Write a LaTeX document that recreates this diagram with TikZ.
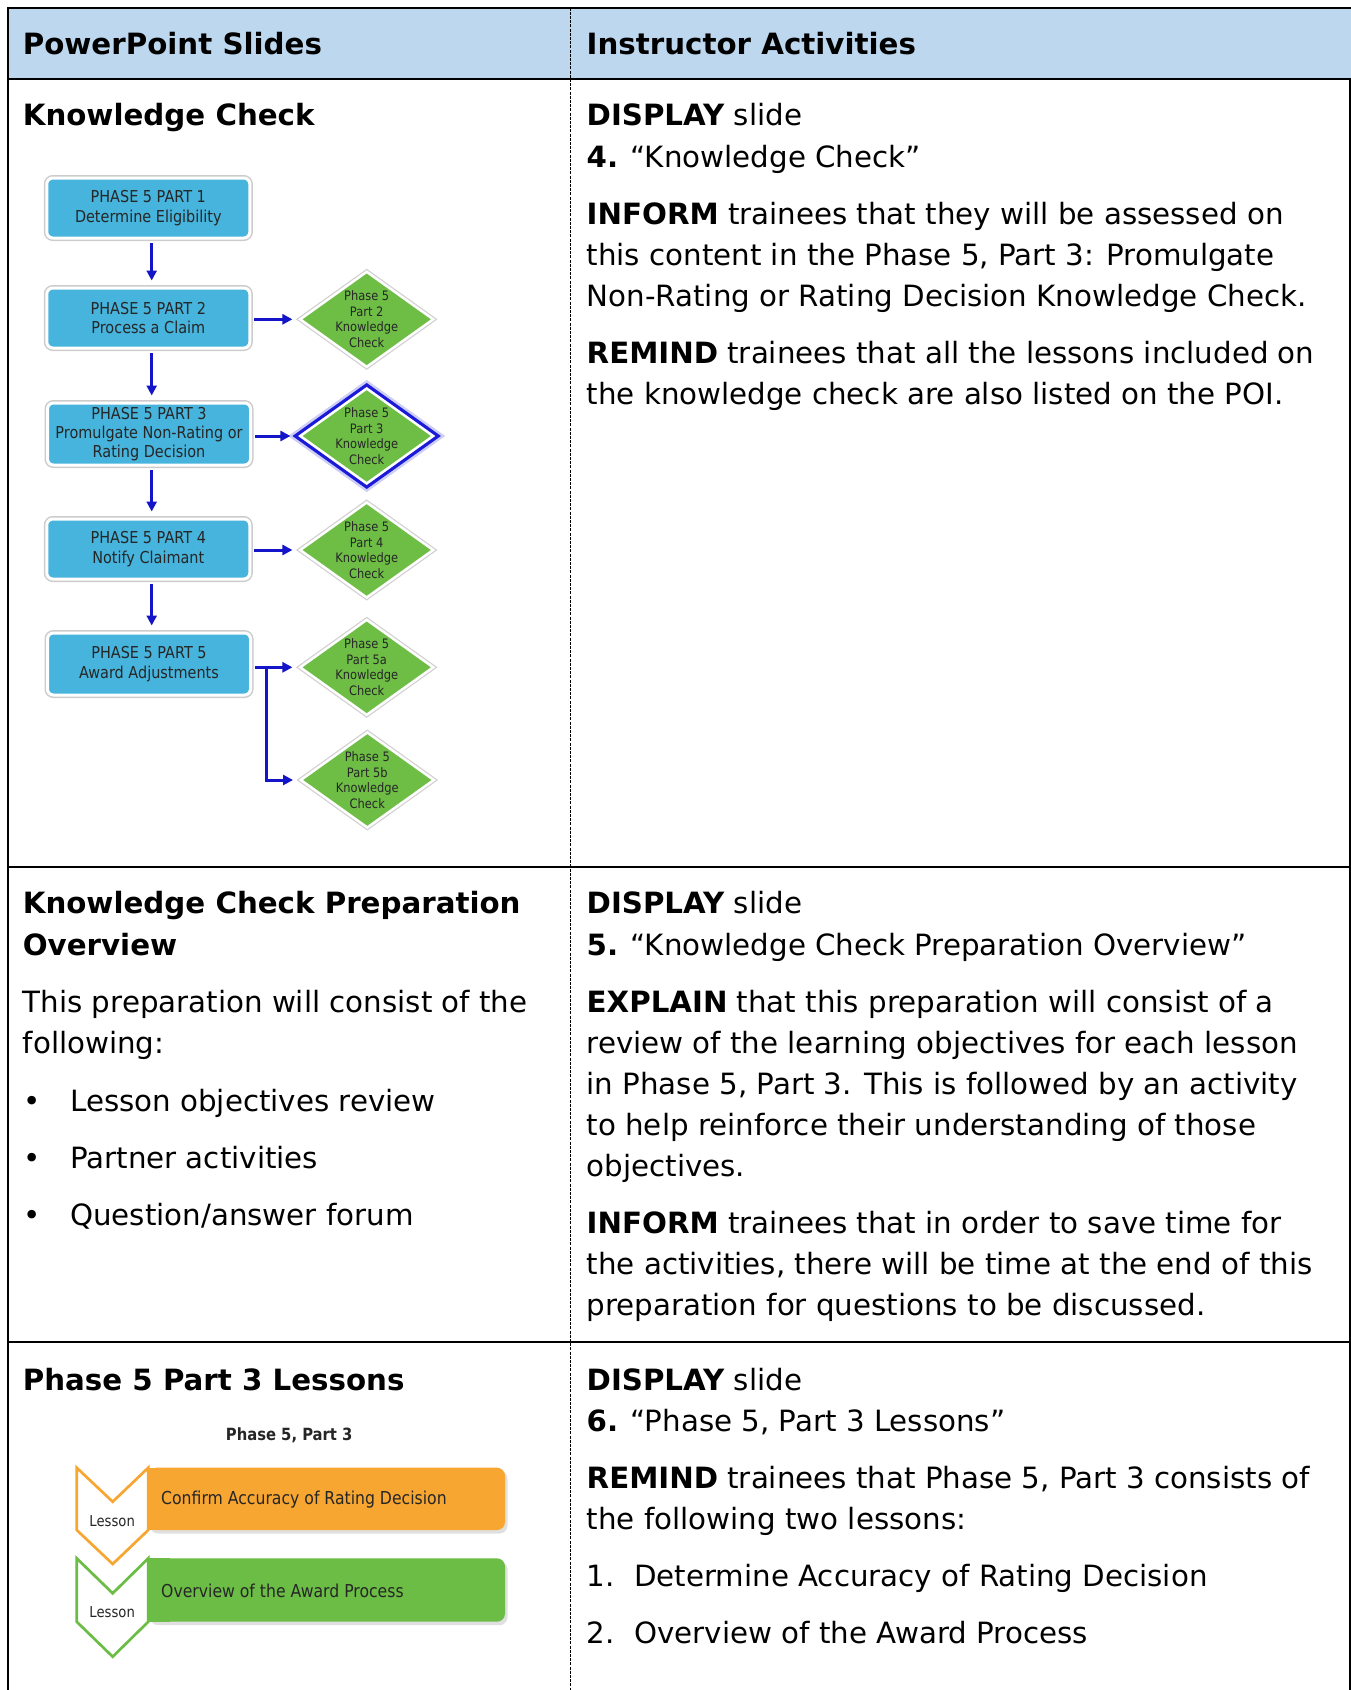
\documentclass[tikz,border=0pt]{standalone}
\usepackage{fontspec}
\setmainfont{DejaVu Sans}
\newfontfamily\tah[FakeStretch=0.88]{DejaVu Sans}
\usetikzlibrary{shapes.geometric,arrows.meta,shadows}
\definecolor{hdrblue}{HTML}{BDD7EE}
\definecolor{boxblue}{HTML}{46B4DC}
\definecolor{kgreen}{HTML}{6EBE46}
\definecolor{arrowblue}{HTML}{1414C8}
\definecolor{glowblue}{HTML}{1A1AD8}
\definecolor{lorange}{HTML}{F8A632}
\definecolor{lgreen}{HTML}{6CBD45}
\newcommand\bdyf{\fontsize{29.3}{41}\selectfont}
\tikzset{
  txt/.style={anchor=base west, inner sep=0pt, font=\bdyf, yshift=-2.2pt},
  pbox/.style={rectangle, rounded corners=6pt, fill=boxblue, draw=white, line width=3pt,
    minimum width=203pt, minimum height=60pt, inner sep=0pt, align=center,
    font=\tah\fontsize{16.4}{19.3}\selectfont, text=black!85,
    preaction={draw=black!20, line width=6pt}},
  kc/.style={diamond, fill=kgreen, draw=white, line width=2.5pt, minimum width=134pt,
    minimum height=96pt, inner sep=-8pt, align=center,
    font=\tah\fontsize{13}{15.6}\selectfont, text=black!85,
    preaction={draw=black!18, line width=5pt}},
  kcglow/.style={kc, preaction={draw=glowblue, line width=14pt, opacity=0.22},
    preaction={draw=glowblue, line width=9pt}},
  conn/.style={draw=arrowblue, line width=3pt, -{Triangle[length=10pt,width=10pt]}},
  tline/.style={line width=2pt, draw=black},
}
\begin{document}
\begin{tikzpicture}[x=1pt,y=-1pt]
\useasboundingbox (0,0) rectangle (1351,1690);
% ---------- table ----------
\fill[hdrblue] (8,7.5) rectangle (1351,78.7);
\draw[tline] (7.3,7.5) -- (1351,7.5);
\draw[tline] (7.3,78.7) -- (1351,78.7);
\draw[tline] (7.3,866.9) -- (1351,866.9);
\draw[tline] (7.3,1342.4) -- (1351,1342.4);
\draw[tline] (8.3,6.5) -- (8.3,1690);
\draw[line width=1.5pt] (1350.2,78.7) -- (1350.2,1690);
\draw[line width=1pt, dash pattern=on 3pt off 1.2pt] (570.5,7.5) -- (570.5,1690);
% ---------- header ----------
\node[txt] (h1) at (22.6,52.1) {\textbf{PowerPoint Slides}};
\node[txt] (h2) at (586.5,52.1) {\textbf{Instructor Activities}};
% ---------- row 1 ----------
\node[txt] (r1l) at (22.6,123.3) {\textbf{Knowledge Check}};
\node[txt] (r1a) at (586.5,123.3) {\textbf{DISPLAY} slide};
\node[txt] (r1b) at (586.5,165.3) {\textbf{4.} “Knowledge Check”};
\node[txt] (r1c) at (586.5,222.5) {\textbf{INFORM} trainees that they will be assessed on};
\node[txt] (r1d) at (586.5,263.5) {this content in the Phase 5, Part 3: Promulgate};
\node[txt] (r1e) at (586.5,304.5) {Non-Rating or Rating Decision Knowledge Check.};
\node[txt] (r1f) at (586.5,361.6) {\textbf{REMIND} trainees that all the lessons included on};
\node[txt] (r1g) at (586.5,402.6) {the knowledge check are also listed on the POI.};
% ---------- flowchart ----------
\node[pbox] (b1) at (148.3,208) {PHASE 5 PART 1\\Determine Eligibility};
\node[pbox] (b2) at (148.3,318) {PHASE 5 PART 2\\Process a Claim};
\node[pbox, minimum height=62pt] (b3) at (149,434) {PHASE 5 PART 3\\Promulgate Non-Rating or\\Rating Decision};
\node[pbox] (b4) at (148.3,549) {PHASE 5 PART 4\\Notify Claimant};
\node[pbox, minimum height=62pt] (b5) at (149,664) {PHASE 5 PART 5\\Award Adjustments};
\node[kc] (d2) at (366.7,319.3) {Phase 5\\Part 2\\Knowledge\\Check};
\node[kcglow] (d3) at (366.7,436) {Phase 5\\Part 3\\Knowledge\\Check};
\node[kc] (d4) at (366.7,550) {Phase 5\\Part 4\\Knowledge\\Check};
\node[kc] (d5a) at (366.7,667.3) {Phase 5\\Part 5a\\Knowledge\\Check};
\node[kc] (d5b) at (367.3,780) {Phase 5\\Part 5b\\Knowledge\\Check};
\draw[conn, shorten <=3.5pt, shorten >=6pt] ([xshift=3.4pt]b1.south) -- ([xshift=3.4pt]b2.north);
\draw[conn, shorten <=3.5pt, shorten >=6pt] ([xshift=3.4pt]b2.south) -- ([xshift=2.7pt]b3.north);
\draw[conn, shorten <=3.5pt, shorten >=6pt] ([xshift=2.7pt]b3.south) -- ([xshift=3.4pt]b4.north);
\draw[conn, shorten <=3.5pt, shorten >=6pt] ([xshift=3.4pt]b4.south) -- ([xshift=2.7pt]b5.north);
\draw[conn, shorten <=3pt, shorten >=6pt] (b2.east |- d2) -- (d2.west);
\draw[conn, shorten <=3pt, shorten >=8pt] (b3.east |- d3) -- (d3.west);
\draw[conn, shorten <=3pt, shorten >=6pt] (b4.east |- d4) -- (d4.west);
\draw[conn, shorten <=3pt, shorten >=6pt] (b5.east |- d5a) -- (d5a.west);
\coordinate (j) at (266.7,667.3);
\draw[conn, shorten >=6pt] (j) |- (d5b.west);
% ---------- row 2 ----------
\node[txt] (r2l1) at (22.6,911.5) {\textbf{Knowledge Check Preparation}};
\node[txt] (r2l2) at (22.6,953.5) {\textbf{Overview}};
\node[txt] (r2l3) at (22.6,1010.6) {This preparation will consist of the};
\node[txt] (r2l4) at (22.6,1051.6) {following:};
\node[txt] (bu1) at (23,1108.8) {•};
\node[txt] (r2l5) at (70,1108.8) {Lesson objectives review};
\node[txt] (bu2) at (23,1166) {•};
\node[txt] (r2l6) at (70,1166) {Partner activities};
\node[txt] (bu3) at (23,1223) {•};
\node[txt] (r2l7) at (70,1223) {Question/answer forum};
\node[txt] (r2a) at (586.5,911.5) {\textbf{DISPLAY} slide};
\node[txt] (r2b) at (586.5,953.5) {\textbf{5.} “Knowledge Check Preparation Overview”};
\node[txt] (r2c) at (586.5,1010.6) {\textbf{EXPLAIN} that this preparation will consist of a};
\node[txt] (r2d) at (586.5,1051.6) {review of the learning objectives for each lesson};
\node[txt] (r2e) at (586.5,1092.6) {in Phase 5, Part 3. This is followed by an activity};
\node[txt] (r2f) at (586.5,1133.6) {to help reinforce their understanding of those};
\node[txt] (r2g) at (586.5,1174.5) {objectives.};
\node[txt] (r2h) at (586.5,1231.7) {\textbf{INFORM} trainees that in order to save time for};
\node[txt] (r2i) at (586.5,1272.7) {the activities, there will be time at the end of this};
\node[txt] (r2j) at (586.5,1313.6) {preparation for questions to be discussed.};
% ---------- row 3 ----------
\node[txt] (r3l) at (22.6,1388) {\textbf{Phase 5 Part 3 Lessons}};
\node[txt] (r3a) at (586.5,1388) {\textbf{DISPLAY} slide};
\node[txt] (r3b) at (586.5,1429) {\textbf{6.} “Phase 5, Part 3 Lessons”};
\node[txt] (r3c) at (586.5,1486) {\textbf{REMIND} trainees that Phase 5, Part 3 consists of};
\node[txt] (r3d) at (586.5,1527) {the following two lessons:};
\node[txt] (n1) at (586.5,1584) {1.};
\node[txt] (r3e) at (634,1584) {Determine Accuracy of Rating Decision};
\node[txt] (n2) at (586.5,1641.4) {2.};
\node[txt] (r3f) at (634,1641.4) {Overview of the Award Process};
% ---------- lessons graphic ----------
\node[font=\tah\bfseries\fontsize{16.8}{19}\selectfont, text=black!85, inner sep=0pt] (lt) at (289.2,1435.7) {Phase 5, Part 3};
% shadows
\fill[black!12, rounded corners=8pt] (150,1470.7) rectangle (507.5,1533.5);
\fill[black!12, rounded corners=8pt] (150,1561.3) rectangle (507.5,1625.2);
% bar 1
\fill[lorange, rounded corners=8pt] (148.3,1467.7) rectangle (505,1530);
\fill[lorange] (148.3,1467.7) rectangle (170,1530);
\filldraw[fill=white, draw=lorange, line width=2.7pt, line join=miter]
  (76.7,1467.7) -- (112.7,1501.7) -- (148.3,1467.7) -- (148.3,1530) -- (112.7,1564) -- (76.7,1530) -- cycle;
% bar 2
\fill[lgreen, rounded corners=8pt] (148.3,1558.3) rectangle (505,1621.7);
\fill[lgreen] (148.3,1558.3) rectangle (170,1621.7);
\filldraw[fill=white, draw=lgreen, line width=2.7pt, line join=miter]
  (76.7,1558.3) -- (112.7,1593.3) -- (148.3,1558.3) -- (148.3,1621.7) -- (112.7,1656.7) -- (76.7,1621.7) -- cycle;
\node[anchor=west, inner sep=0pt, font=\tah\fontsize{17.8}{20}\selectfont, text=black!85] (l1) at (161,1499.3) {Confirm Accuracy of Rating Decision};
\node[anchor=west, inner sep=0pt, font=\tah\fontsize{17.8}{20}\selectfont, text=black!85] (l2) at (161,1590.7) {Overview of the Award Process};
\node[inner sep=0pt, font=\tah\fontsize{15}{18}\selectfont, text=black!85] (ls1) at (112.2,1521) {Lesson};
\node[inner sep=0pt, font=\tah\fontsize{15}{18}\selectfont, text=black!85] (ls2) at (112.2,1612.3) {Lesson};
\end{tikzpicture}
\end{document}
